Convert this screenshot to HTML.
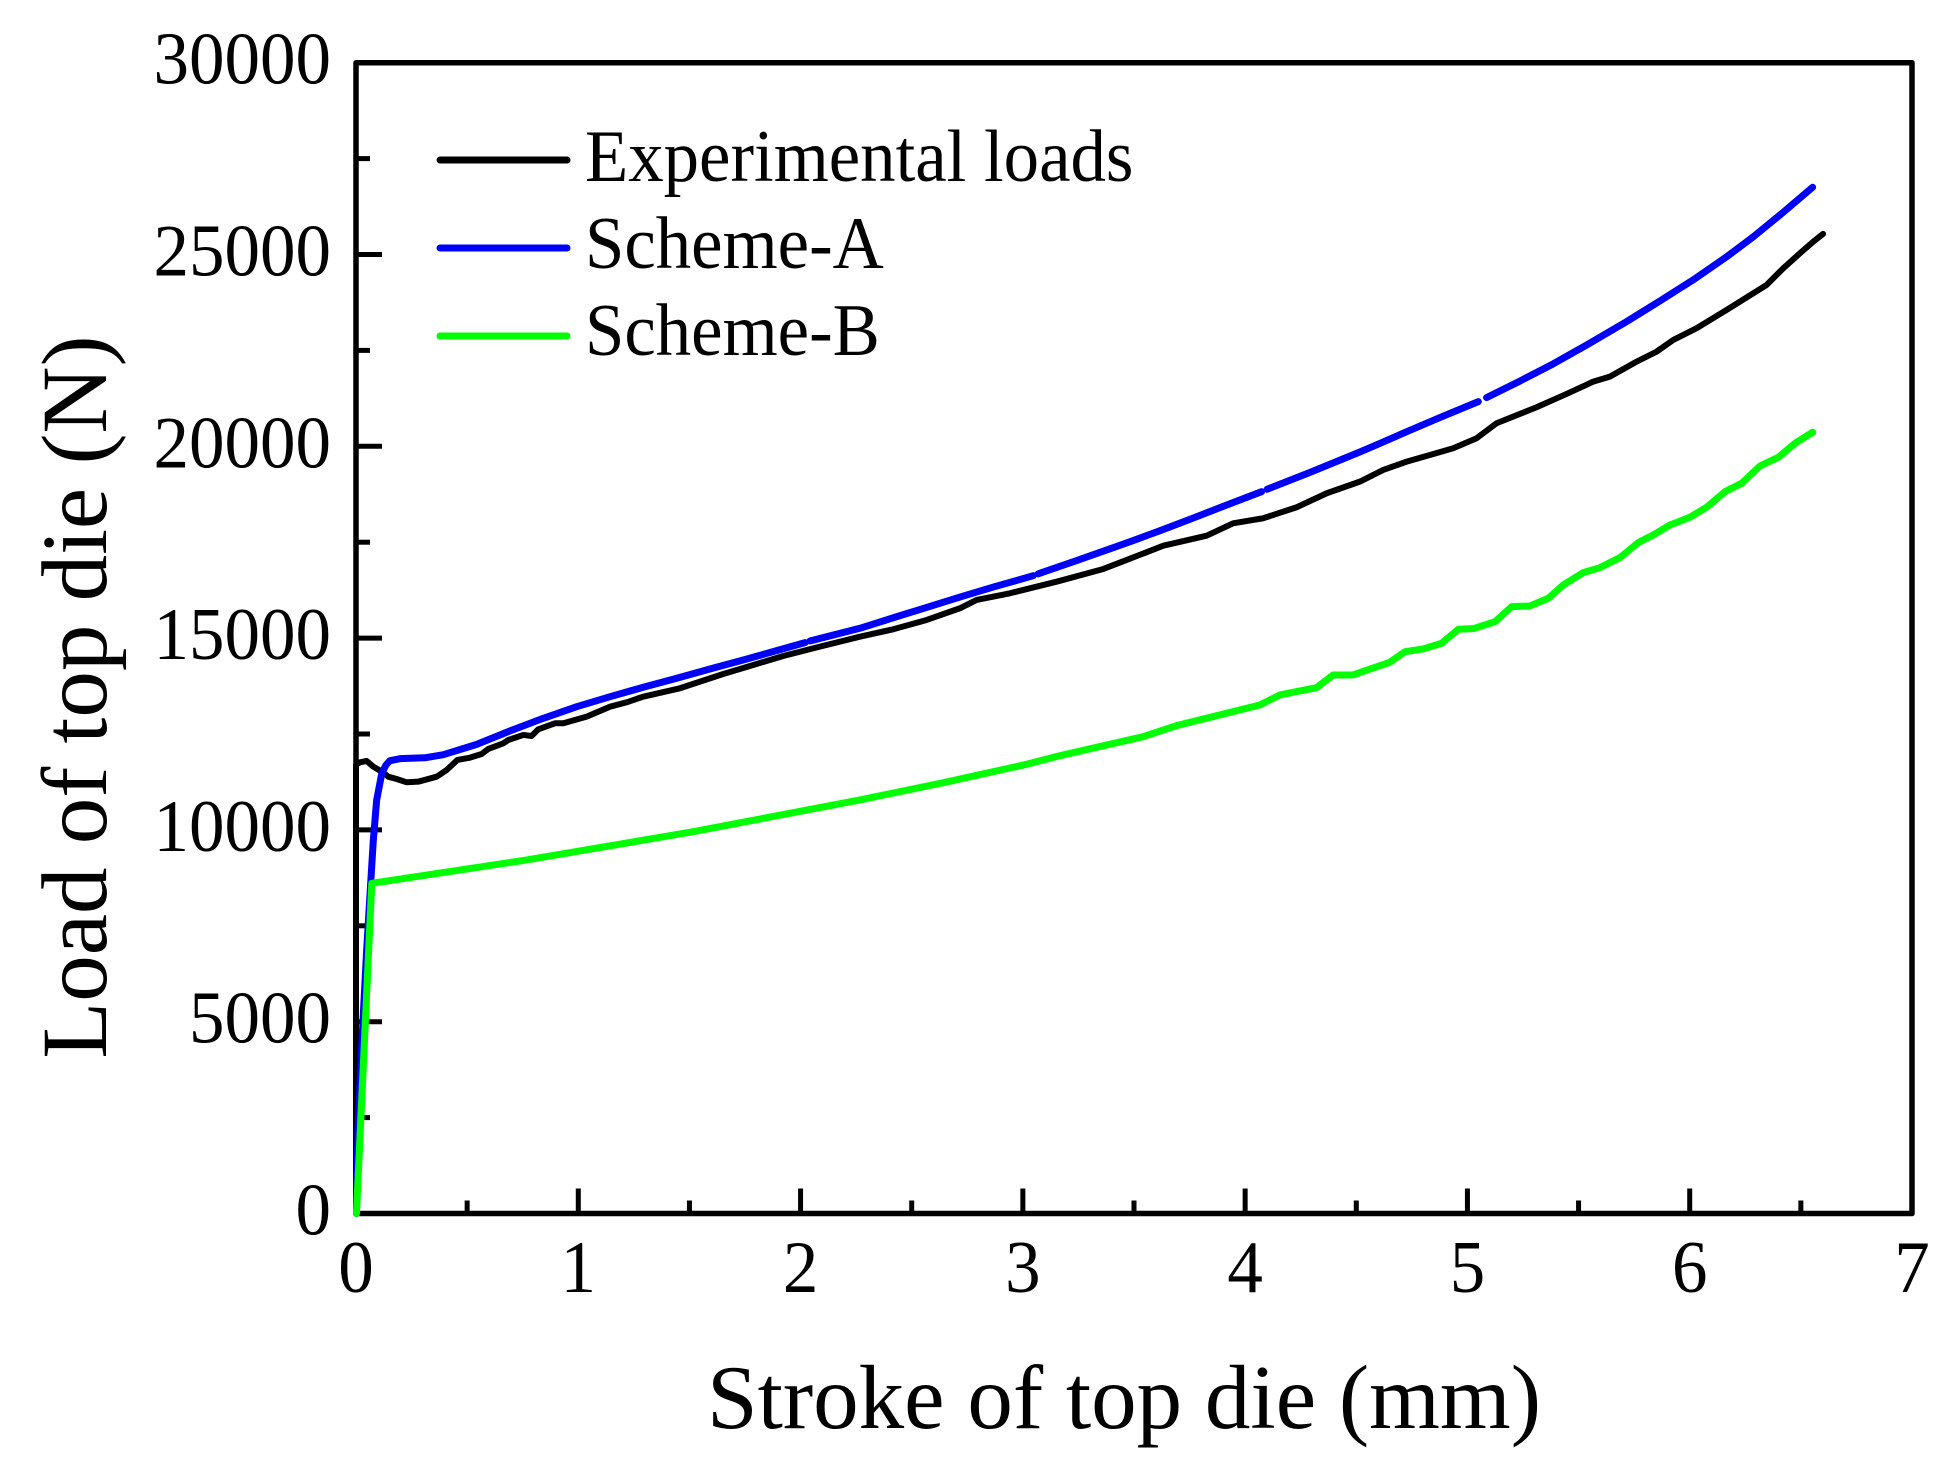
<!DOCTYPE html>
<html lang="en">
<head>
<meta charset="utf-8">
<title>Load of top die vs stroke of top die</title>
<style>
html,body{margin:0;padding:0;background:#fff;}
svg{display:block;}
text{font-family:"Liberation Serif","Times New Roman",serif;fill:#000;}
.tick-label{font-size:71px;}
.legend-label{font-size:70.8px;}
</style>
</head>
<body>
<svg id="chart" xmlns="http://www.w3.org/2000/svg" width="1951" height="1468" viewBox="0 0 1951 1468">
  <rect x="0" y="0" width="1951" height="1468" fill="#fff"/>
  <g id="ticks"></g>
  <g id="labels"></g>
  <rect x="356" y="62.7" width="1556" height="1150.8" fill="none" stroke="#000" stroke-width="5.5" stroke-linejoin="round"/>
  <g id="series"></g>
  <g>
    <g>
      <line x1="440" y1="160" x2="567" y2="160" stroke="#000" stroke-width="7" stroke-linecap="round"/>
      <text class="legend-label" transform="translate(585,181) scale(1,1.04)">Experimental loads</text>
    </g>
    <g>
      <line x1="440" y1="248" x2="567" y2="248" stroke="#0000ff" stroke-width="7" stroke-linecap="round"/>
      <text class="legend-label" transform="translate(585,268) scale(1,1.04)">Scheme-A</text>
    </g>
    <g>
      <line x1="440" y1="336" x2="567" y2="336" stroke="#00ff00" stroke-width="7" stroke-linecap="round"/>
      <text class="legend-label" transform="translate(585,355) scale(1,1.04)">Scheme-B</text>
    </g>
  </g>
  <text x="1124" y="1428" font-size="91" text-anchor="middle">Stroke of top die (mm)</text>
  <text transform="translate(106,697) rotate(-90)" font-size="93" text-anchor="middle">Load of top die (N)</text>
</svg>
<script>
const xMajorLabels = [0, 1, 2, 3, 4, 5, 6, 7];
const xMinorTicks = [0.5, 1.5, 2.5, 3.5, 4.5, 5.5, 6.5];
const yMajorLabels = [0, 5000, 10000, 15000, 20000, 25000, 30000];
const yMinorTicks = [2500, 7500, 12500, 17500, 22500, 27500];

const experimentalX = [0, 0, 0.018, 0.048, 0.078, 0.116, 0.145, 0.183, 0.228, 0.280, 0.363, 0.408, 0.456, 0.513, 0.565, 0.595, 0.663, 0.685, 0.753, 0.790, 0.820, 0.895, 0.933, 1.038, 1.143, 1.218, 1.292, 1.457, 1.652, 1.787, 1.922, 2.087, 2.267, 2.417, 2.567, 2.717, 2.792, 2.942, 3.152, 3.362, 3.467, 3.632, 3.827, 3.946, 4.081, 4.232, 4.367, 4.516, 4.621, 4.727, 4.831, 4.936, 5.041, 5.131, 5.311, 5.446, 5.566, 5.641, 5.761, 5.851, 5.926, 6.031, 6.166, 6.346, 6.421, 6.496, 6.556, 6.600];
const experimentalY = [0, 11700, 11763, 11797, 11648, 11518, 11387, 11327, 11241, 11257, 11387, 11562, 11823, 11883, 11979, 12110, 12258, 12344, 12475, 12448, 12623, 12780, 12780, 12952, 13212, 13327, 13473, 13692, 14065, 14299, 14534, 14777, 15037, 15230, 15473, 15778, 15994, 16169, 16471, 16802, 17037, 17409, 17670, 17993, 18124, 18411, 18776, 19079, 19383, 19600, 19774, 19949, 20210, 20601, 21018, 21365, 21685, 21816, 22207, 22468, 22773, 23078, 23555, 24207, 24642, 25033, 25336, 25537];

const schemeAX = [0.002, 0.009, 0.027, 0.048, 0.066, 0.078, 0.093, 0.116, 0.135, 0.153, 0.198, 0.310, 0.393, 0.543, 0.693, 0.843, 0.993, 1.143, 1.292, 1.443, 1.592, 1.742, 1.892, 2.020, null, 2.042, 2.267, 2.417, 2.567, 2.717, 2.867, 3.047, null, 3.069, 3.242, 3.467, 3.617, 3.767, 3.917, 4.074, null, 4.099, 4.292, 4.516, 4.576, 4.727, 4.876, 5.049, null, 5.086, 5.236, 5.386, 5.536, 5.716, 5.866, 6.016, 6.166, 6.286, 6.406, 6.553];
const schemeAY = [0, 2177, 4523, 6870, 8608, 9737, 10780, 11476, 11693, 11805, 11857, 11880, 11960, 12230, 12580, 12910, 13212, 13473, 13718, 13953, 14195, 14430, 14672, 14881, null, 14925, 15256, 15530, 15800, 16070, 16330, 16627, null, 16675, 17020, 17480, 17800, 18130, 18470, 18817, null, 18880, 19320, 19850, 20000, 20380, 20750, 21164, null, 21270, 21700, 22150, 22640, 23250, 23790, 24340, 24940, 25460, 26030, 26753];

const schemeBX = [0.002, 0.071, 0.768, 1.517, 2.267, 2.642, 3.017, 3.167, 3.541, 3.691, 4.066, 4.156, 4.321, 4.396, 4.485, 4.651, 4.719, 4.801, 4.884, 4.959, 5.026, 5.124, 5.199, 5.281, 5.364, 5.431, 5.521, 5.596, 5.686, 5.768, 5.836, 5.911, 6.001, 6.076, 6.159, 6.234, 6.316, 6.399, 6.474, 6.553];
const schemeBY = [0, 8608, 9216, 9954, 10780, 11231, 11711, 11935, 12430, 12717, 13257, 13517, 13708, 14039, 14039, 14370, 14646, 14717, 14865, 15230, 15246, 15428, 15819, 15838, 16038, 16385, 16706, 16836, 17097, 17488, 17689, 17949, 18150, 18411, 18817, 19036, 19487, 19714, 20079, 20366];

const SVG_NS = 'http://www.w3.org/2000/svg';
const plotLeft = 356, plotRight = 1912, plotTop = 62.7, plotBottom = 1213.5;
const xMax = 7, yMax = 30000;
function sx(v) { return plotLeft + (v / xMax) * (plotRight - plotLeft); }
function sy(v) { return plotBottom - (v / yMax) * (plotBottom - plotTop); }

const ticksGroup = document.getElementById('ticks');
const labelsGroup = document.getElementById('labels');
const seriesGroup = document.getElementById('series');

function makeTick(x1, y1, x2, y2, name) {
  const el = document.createElementNS(SVG_NS, 'line');
  el.setAttribute('x1', x1);
  el.setAttribute('y1', y1);
  el.setAttribute('x2', x2);
  el.setAttribute('y2', y2);
  el.setAttribute('stroke', '#000');
  el.setAttribute('stroke-width', '5');
  
  
  ticksGroup.appendChild(el);
}

function makeLabel(x, y, anchor, str, name) {
  const el = document.createElementNS(SVG_NS, 'text');
  el.setAttribute('class', 'tick-label');
  el.setAttribute('transform', 'translate(' + x + ',' + y + ') scale(1,1.05)');
  el.setAttribute('text-anchor', anchor);
  el.textContent = str;
  
  
  labelsGroup.appendChild(el);
}

xMajorLabels.forEach(function (v) {
  makeTick(sx(v), plotBottom, sx(v), plotBottom - 25, 'x-major-tick-' + v);
  makeLabel(sx(v), 1292, 'middle', String(v), 'x-tick-label-' + v);
});
xMinorTicks.forEach(function (v) {
  makeTick(sx(v), plotBottom, sx(v), plotBottom - 13, 'x-minor-tick-' + v);
});
yMajorLabels.forEach(function (v) {
  makeTick(plotLeft, sy(v), plotLeft + 26, sy(v), 'y-major-tick-' + v);
  makeLabel(331, sy(v) + 21, 'end', String(v), 'y-tick-label-' + v);
});
yMinorTicks.forEach(function (v) {
  makeTick(plotLeft, sy(v), plotLeft + 14, sy(v), 'y-minor-tick-' + v);
});

function buildPath(xs, ys) {
  let d = '';
  let pen = false;
  xs.forEach(function (xv, i) {
    if (xv === null || ys[i] === null) {
      pen = false;
      return;
    }
    d += (pen ? 'L' : 'M') + sx(xv).toFixed(2) + ' ' + sy(ys[i]).toFixed(2);
    pen = true;
  });
  return d;
}

function drawSeries(xs, ys, color, width, name) {
  const el = document.createElementNS(SVG_NS, 'path');
  el.setAttribute('d', buildPath(xs, ys));
  el.setAttribute('fill', 'none');
  el.setAttribute('stroke', color);
  el.setAttribute('stroke-width', width);
  el.setAttribute('stroke-linecap', 'round');
  el.setAttribute('stroke-linejoin', 'round');
  
  
  seriesGroup.appendChild(el);
}

drawSeries(experimentalX, experimentalY, '#000', 6, 'series-experimental-loads');
drawSeries(schemeAX, schemeAY, '#0000ff', 7, 'series-scheme-a');
drawSeries(schemeBX, schemeBY, '#00ff00', 7, 'series-scheme-b');
</script>
</body>
</html>
